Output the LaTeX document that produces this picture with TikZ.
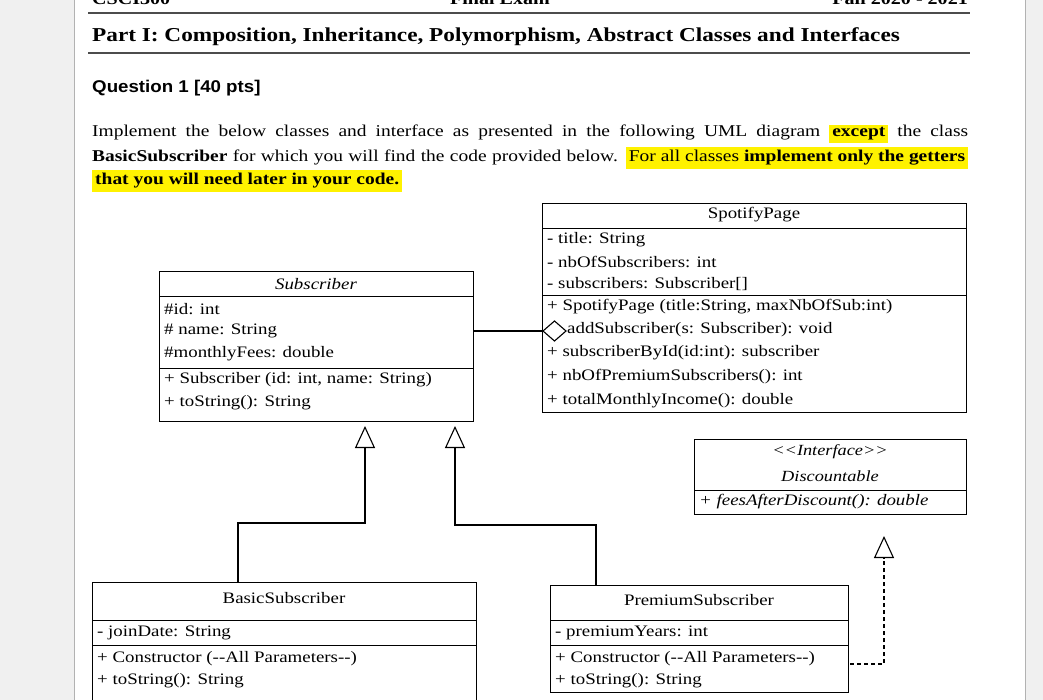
\documentclass[tikz,border=0pt]{standalone}
\usepackage{fontspec}
\setmainfont{Liberation Serif}[FakeStretch=1.18]
\newfontfamily\qsans{Liberation Sans}[FakeStretch=1.1]
\usetikzlibrary{arrows.meta}
\begin{document}
\begin{tikzpicture}[x=1pt,y=-1pt,
  box/.style={draw,line width=0.9pt,anchor=north west,inner sep=0pt},
  tx/.style={anchor=west,inner sep=0pt,font=\fontsize{16}{18}\selectfont},
  tc/.style={anchor=center,inner sep=0pt,font=\fontsize{16}{18}\selectfont},
  pl/.style={anchor=west,inner sep=0pt,font=\fontsize{16.5}{18}\selectfont},
  sep/.style={line width=0.9pt},
  conn/.style={line width=1.1pt},
  inh/.style={conn,-{Triangle[open,length=22pt,width=20pt]}}]
\useasboundingbox (0,0) rectangle (1043,700);
\clip (0,0) rectangle (1043,700);
\fill[gray!12] (0,0) rectangle (1043,700);
\fill[white] (74,0) rectangle (1025,700);
\draw[line width=1pt,gray!60] (74,0) -- (74,700) (1025,0) -- (1025,700);
% header
\node[anchor=south west,inner sep=0pt,font=\fontsize{17}{19}\selectfont\bfseries] (h1) at (92,5) {CSCI300};
\node[anchor=south,inner sep=0pt,font=\fontsize{17}{19}\selectfont\bfseries] (h2) at (500,5) {Final Exam};
\node[anchor=south east,inner sep=0pt,font=\fontsize{17}{19}\selectfont\bfseries] (h3) at (968,5) {Fall 2020 - 2021};
\draw[line width=1.6pt,gray!60!black] (88,13) -- (970,13);
\node[anchor=west,inner sep=0pt,font=\fontsize{19.7}{22}\selectfont\bfseries] (title) at (92,37) {Part I: Composition, Inheritance, Polymorphism, Abstract Classes and Interfaces};
\draw[line width=1.6pt,gray!60!black] (88,53) -- (970,53);
\node[anchor=west,inner sep=0pt,font=\qsans\fontsize{17}{19}\selectfont\bfseries] (q) at (92,88) {Question 1 [40 pts]};
\node[pl] (para1) at (92,134) {\hbox to 876pt{Implement the below classes and interface as presented in the following UML diagram \colorbox{yellow}{\bfseries except} the class}};
\node[pl] (para2) at (92,158) {\hbox to 876pt{\textbf{BasicSubscriber} for which you will find the code provided below. \colorbox{yellow}{For all classes \textbf{implement only the getters}}}};
\node[pl] (para3) at (92,181) {\colorbox{yellow}{\textbf{that you will need later in your code.}}};
% SpotifyPage
\node[box,minimum width=424pt,minimum height=209pt] (sp) at (542,203) {};
\draw[sep] (542,228) -- (966,228) (542,295) -- (966,295);
\node[tc] (spt) at (754,215) {SpotifyPage};
\node[tx] (sp1) at (547,240) {- title: String};
\node[tx] (sp2) at (547,262) {- nbOfSubscribers: int};
\node[tx] (sp3) at (547,284) {- subscribers: Subscriber[]};
\node[tx] (sp4) at (547,307) {+ SpotifyPage (title:String, maxNbOfSub:int)};
\node[tx] (sp5) at (567,330) {addSubscriber(s: Subscriber): void};
\node[tx] (sp6) at (547,353) {+ subscriberById(id:int): subscriber};
\node[tx] (sp7) at (547,377) {+ nbOfPremiumSubscribers(): int};
\node[tx] (sp8) at (547,401) {+ totalMonthlyIncome(): double};
% Subscriber
\node[box,minimum width=314pt,minimum height=150pt] (sub) at (159,271) {};
\draw[sep] (159,296) -- (473,296) (159,368) -- (473,368);
\node[tc,font=\fontsize{16}{18}\selectfont\itshape] (subt) at (316,284) {Subscriber};
\node[tx] (s1) at (164,309) {\#id: int};
\node[tx] (s2) at (164,331) {\# name: String};
\node[tx] (s3) at (164,354) {\#monthlyFees: double};
\node[tx] (s4) at (164,380) {+ Subscriber (id: int, name: String)};
\node[tx] (s5) at (164,403) {+ toString(): String};
% composition
\coordinate (cL) at (473,331);
\draw[conn] (cL) -- (543,331);
\draw[line width=1.1pt,fill=white] (543,331) -- (554.5,321) -- (566,331) -- (554.5,341) -- cycle;
% Interface
\node[box,minimum width=272pt,minimum height=75pt] (intf) at (694,439) {};
\draw[sep] (694,490) -- (966,490);
\node[tc,font=\fontsize{15.5}{17}\selectfont\itshape] (i1) at (830,452) {{<}{<}Interface{>}{>}};
\node[tc,font=\fontsize{15.5}{17}\selectfont\itshape] (i2) at (830,476) {Discountable};
\node[tx,font=\fontsize{16}{18}\selectfont\itshape] (i3) at (699,502) {+ feesAfterDiscount(): double};
% Basic
\node[box,minimum width=384pt,minimum height=120pt] (bs) at (92,582) {};
\draw[sep] (92,620) -- (476,620) (92,645) -- (476,645);
\node[tc] (bst) at (284,598) {BasicSubscriber};
\node[tx] (b1) at (97,633) {- joinDate: String};
\node[tx] (b2) at (97,659) {+ Constructor (-{}-All Parameters-{}-)};
\node[tx] (b3) at (97,681) {+ toString(): String};
% Premium
\node[box,minimum width=298pt,minimum height=107pt] (ps) at (550,585) {};
\draw[sep] (550,620) -- (848,620) (550,645) -- (848,645);
\node[tc] (pst) at (699,600) {PremiumSubscriber};
\node[tx] (p1) at (555,633) {- premiumYears: int};
\node[tx] (p2) at (555,659) {+ Constructor (-{}-All Parameters-{}-)};
\node[tx] (p3) at (555,681) {+ toString(): String};
% inheritance
\draw[inh] (238,582) -- (238,523) -- (365,523) -- (365,426);
\draw[inh] (596,585) -- (596,525) -- (455,525) -- (455,426);
\draw[inh,dash pattern=on 4pt off 3pt] (850,664) -- (884,664) -- (884,536);
\end{tikzpicture}
\end{document}
